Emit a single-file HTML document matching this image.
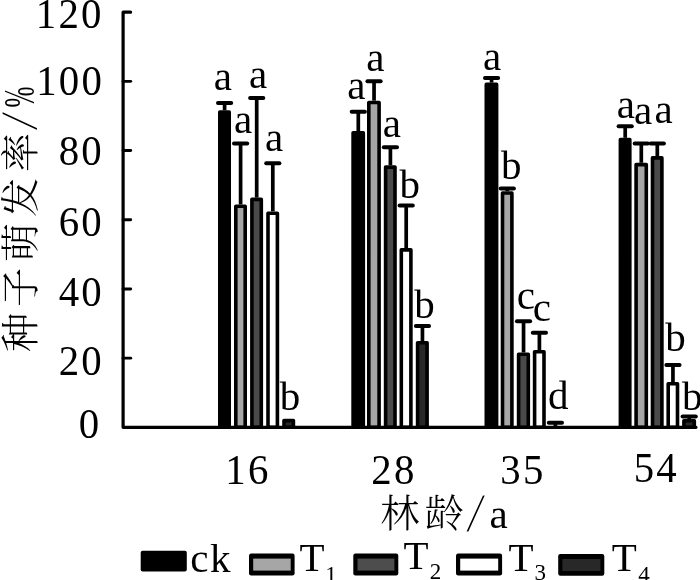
<!DOCTYPE html>
<html lang="zh"><head><meta charset="utf-8"><title>种子萌发率</title>
<style>
html,body{margin:0;padding:0;background:#fff;}
body{width:700px;height:580px;overflow:hidden;}
svg{display:block;}
text{font-family:"Liberation Serif", "Noto Serif CJK SC", serif;fill:#000;}
.cjk{font-family:"Liberation Serif", "Noto Serif CJK SC", serif;}
</style></head><body>
<svg width="700" height="580" viewBox="0 0 700 580">
<rect width="700" height="580" fill="#fff"/>

<defs><clipPath id="plot"><rect x="0" y="0" width="700" height="428.85"/></clipPath></defs>
<g stroke="#000" stroke-linejoin="round" clip-path="url(#plot)">
<line x1="224.60" y1="103.00" x2="224.60" y2="110.30" stroke-width="3.7"/>
<line x1="218.00" y1="103.00" x2="231.20" y2="103.00" stroke-width="4.0" stroke-linecap="round"/>
<rect x="219.80" y="112.10" width="9.40" height="315.25" fill="#000" stroke-width="3.6"/>
<line x1="240.60" y1="143.50" x2="240.60" y2="204.50" stroke-width="3.7"/>
<line x1="234.00" y1="143.50" x2="247.20" y2="143.50" stroke-width="4.0" stroke-linecap="round"/>
<rect x="235.80" y="206.30" width="9.40" height="221.05" fill="#a6a6a6" stroke-width="3.6"/>
<line x1="256.70" y1="98.00" x2="256.70" y2="197.60" stroke-width="3.7"/>
<line x1="250.10" y1="98.00" x2="263.30" y2="98.00" stroke-width="4.0" stroke-linecap="round"/>
<rect x="251.90" y="199.40" width="9.40" height="227.95" fill="#4a4a4a" stroke-width="3.6"/>
<line x1="272.80" y1="163.20" x2="272.80" y2="211.40" stroke-width="3.7"/>
<line x1="266.20" y1="163.20" x2="279.40" y2="163.20" stroke-width="4.0" stroke-linecap="round"/>
<rect x="268.00" y="213.20" width="9.40" height="214.15" fill="#fff" stroke-width="3.6"/>
<rect x="284.00" y="420.60" width="9.40" height="6.75" fill="#282828" stroke-width="3.6"/>
<line x1="358.30" y1="111.70" x2="358.30" y2="131.00" stroke-width="3.7"/>
<line x1="351.70" y1="111.70" x2="364.90" y2="111.70" stroke-width="4.0" stroke-linecap="round"/>
<rect x="353.10" y="132.80" width="10.20" height="294.55" fill="#000" stroke-width="3.6"/>
<line x1="374.05" y1="81.20" x2="374.05" y2="100.70" stroke-width="3.7"/>
<line x1="367.45" y1="81.20" x2="380.65" y2="81.20" stroke-width="4.0" stroke-linecap="round"/>
<rect x="368.80" y="102.50" width="10.30" height="324.85" fill="#a6a6a6" stroke-width="3.6"/>
<line x1="390.40" y1="147.20" x2="390.40" y2="165.30" stroke-width="3.7"/>
<line x1="383.80" y1="147.20" x2="397.00" y2="147.20" stroke-width="4.0" stroke-linecap="round"/>
<rect x="385.60" y="167.10" width="9.40" height="260.25" fill="#4a4a4a" stroke-width="3.6"/>
<line x1="406.20" y1="205.50" x2="406.20" y2="248.10" stroke-width="3.7"/>
<line x1="399.60" y1="205.50" x2="412.80" y2="205.50" stroke-width="4.0" stroke-linecap="round"/>
<rect x="401.30" y="249.90" width="9.60" height="177.45" fill="#fff" stroke-width="3.6"/>
<line x1="422.45" y1="326.00" x2="422.45" y2="340.90" stroke-width="3.7"/>
<line x1="415.85" y1="326.00" x2="429.05" y2="326.00" stroke-width="4.0" stroke-linecap="round"/>
<rect x="417.60" y="342.70" width="9.50" height="84.65" fill="#282828" stroke-width="3.6"/>
<line x1="491.55" y1="78.00" x2="491.55" y2="82.60" stroke-width="3.7"/>
<line x1="484.95" y1="78.00" x2="498.15" y2="78.00" stroke-width="4.0" stroke-linecap="round"/>
<rect x="486.30" y="84.40" width="10.30" height="342.95" fill="#000" stroke-width="3.6"/>
<line x1="507.30" y1="188.50" x2="507.30" y2="191.20" stroke-width="3.7"/>
<line x1="500.70" y1="188.50" x2="513.90" y2="188.50" stroke-width="4.0" stroke-linecap="round"/>
<rect x="502.50" y="193.00" width="9.40" height="234.35" fill="#a6a6a6" stroke-width="3.6"/>
<line x1="523.55" y1="321.20" x2="523.55" y2="352.40" stroke-width="3.7"/>
<line x1="516.95" y1="321.20" x2="530.15" y2="321.20" stroke-width="4.0" stroke-linecap="round"/>
<rect x="518.60" y="354.20" width="9.70" height="73.15" fill="#4a4a4a" stroke-width="3.6"/>
<line x1="539.40" y1="332.80" x2="539.40" y2="350.00" stroke-width="3.7"/>
<line x1="532.80" y1="332.80" x2="546.00" y2="332.80" stroke-width="4.0" stroke-linecap="round"/>
<rect x="534.60" y="351.80" width="9.40" height="75.55" fill="#fff" stroke-width="3.6"/>
<line x1="555.40" y1="422.80" x2="555.40" y2="427.35" stroke-width="3.7"/>
<line x1="548.80" y1="422.80" x2="562.00" y2="422.80" stroke-width="4.0" stroke-linecap="round"/>
<line x1="625.20" y1="126.20" x2="625.20" y2="137.80" stroke-width="3.7"/>
<line x1="618.60" y1="126.20" x2="631.80" y2="126.20" stroke-width="4.0" stroke-linecap="round"/>
<rect x="620.40" y="139.60" width="9.40" height="287.75" fill="#000" stroke-width="3.6"/>
<line x1="641.30" y1="143.50" x2="641.30" y2="162.80" stroke-width="3.7"/>
<line x1="634.70" y1="143.50" x2="647.90" y2="143.50" stroke-width="4.0" stroke-linecap="round"/>
<rect x="636.10" y="164.60" width="10.20" height="262.75" fill="#a6a6a6" stroke-width="3.6"/>
<line x1="657.30" y1="143.50" x2="657.30" y2="156.10" stroke-width="3.7"/>
<line x1="650.70" y1="143.50" x2="663.90" y2="143.50" stroke-width="4.0" stroke-linecap="round"/>
<rect x="652.50" y="157.90" width="9.40" height="269.45" fill="#4a4a4a" stroke-width="3.6"/>
<line x1="672.95" y1="365.00" x2="672.95" y2="382.00" stroke-width="3.7"/>
<line x1="666.35" y1="365.00" x2="679.55" y2="365.00" stroke-width="4.0" stroke-linecap="round"/>
<rect x="668.20" y="383.80" width="9.30" height="43.55" fill="#fff" stroke-width="3.6"/>
<line x1="689.20" y1="416.60" x2="689.20" y2="418.90" stroke-width="3.7"/>
<line x1="682.60" y1="416.60" x2="695.80" y2="416.60" stroke-width="4.0" stroke-linecap="round"/>
<rect x="683.90" y="420.70" width="10.40" height="6.65" fill="#282828" stroke-width="3.6"/>
</g>
<g stroke="#000" stroke-width="3.2" fill="none" stroke-linecap="round" stroke-linejoin="round">
<polyline points="130.60,12.15 123.10,12.15 123.10,427.35 696.00,427.35"/>
<line x1="123.10" y1="358.15" x2="130.70" y2="358.15" stroke-width="2.9"/>
<line x1="123.10" y1="288.95" x2="130.70" y2="288.95" stroke-width="2.9"/>
<line x1="123.10" y1="219.75" x2="130.70" y2="219.75" stroke-width="2.9"/>
<line x1="123.10" y1="150.55" x2="130.70" y2="150.55" stroke-width="2.9"/>
<line x1="123.10" y1="81.35" x2="130.70" y2="81.35" stroke-width="2.9"/>
</g>
<text transform="translate(103.7,28.2) scale(0.950,1)" font-size="43.0" text-anchor="end" letter-spacing="2.32">120</text>
<text transform="translate(104.0,94.6) scale(0.950,1)" font-size="43.0" text-anchor="end" letter-spacing="2.32">100</text>
<text transform="translate(104.0,165.0) scale(0.950,1)" font-size="43.0" text-anchor="end" letter-spacing="2.32">80</text>
<text transform="translate(104.0,236.0) scale(0.950,1)" font-size="43.0" text-anchor="end" letter-spacing="2.32">60</text>
<text transform="translate(104.0,305.8) scale(0.950,1)" font-size="43.0" text-anchor="end" letter-spacing="2.32">40</text>
<text transform="translate(104.0,375.2) scale(0.950,1)" font-size="43.0" text-anchor="end" letter-spacing="2.32">20</text>
<text transform="translate(101.5,437.9) scale(0.950,1)" font-size="43.0" text-anchor="end" letter-spacing="2.32">0</text>
<text transform="translate(247.9,483.6) scale(0.950,1)" font-size="43.0" text-anchor="middle" letter-spacing="2.32">16</text>
<text transform="translate(393.9,483.8) scale(0.950,1)" font-size="43.0" text-anchor="middle" letter-spacing="2.32">28</text>
<text transform="translate(522.9,483.6) scale(0.950,1)" font-size="43.0" text-anchor="middle" letter-spacing="2.32">35</text>
<text transform="translate(656.3,481.8) scale(0.950,1)" font-size="43.0" text-anchor="middle" letter-spacing="2.32">54</text>
<g font-size="41" text-anchor="middle">
<text x="222.8" y="90.0">a</text>
<text x="258.0" y="88.2">a</text>
<text x="243.2" y="133.4">a</text>
<text x="274.2" y="151.3">a</text>
<text x="290.0" y="410.2">b</text>
<text x="375.4" y="70.5">a</text>
<text x="356.4" y="99.0">a</text>
<text x="391.8" y="136.6">a</text>
<text x="409.7" y="198.3">b</text>
<text x="424.6" y="317.8">b</text>
<text x="492.0" y="69.8">a</text>
<text x="511.3" y="178.7">b</text>
<text x="525.9" y="309.1">c</text>
<text x="541.8" y="321.4">c</text>
<text x="558.2" y="408.6">d</text>
<text x="625.9" y="118.0">a</text>
<text x="643.2" y="124.1">a</text>
<text x="663.5" y="123.4">a</text>
<text x="675.6" y="350.5">b</text>
<text x="692.3" y="409.9">b</text>
</g>
<text class="cjk" x="380.2" y="527" font-size="39.2" letter-spacing="5.3" font-weight="300">林龄</text>
<text transform="translate(465.6,530.5) scale(1.34,1)" font-size="54.5" stroke="#fff" stroke-width="1.15">/</text>
<text x="489.6" y="527.8" font-size="41">a</text>
<text class="cjk" transform="translate(33.7,351.9) rotate(-90)" font-size="39.2" letter-spacing="5.8" font-weight="300">种子萌发率</text>
<text transform="translate(36.6,131.0) rotate(-90) scale(1.38,1)" font-size="52" stroke="#fff" stroke-width="1.15">/</text>
<text transform="translate(33.5,107.5) rotate(-90) scale(0.58,1)" font-size="43.3">%</text>
<rect x="140.70" y="550.80" width="46.10" height="20.80" rx="2" fill="#000"/>
<text x="190.2" y="571.5" font-size="41" letter-spacing="1.5">ck</text>
<rect x="249.00" y="553.60" width="45.60" height="21.80" rx="2.2" fill="#000"/>
<rect x="253.20" y="558.60" width="37.50" height="12.00" fill="#a6a6a6"/>
<text x="299.4" y="571.4" font-size="41">T<tspan font-size="23" dx="0.7" dy="10.5">1</tspan></text>
<rect x="353.30" y="553.60" width="45.00" height="21.80" rx="2.2" fill="#000"/>
<rect x="357.50" y="558.60" width="36.90" height="12.00" fill="#4d4d4d"/>
<text x="403.6" y="569.4" font-size="41">T<tspan font-size="23" dx="1.0" dy="9.6">2</tspan></text>
<rect x="456.00" y="553.60" width="46.10" height="21.80" rx="2.2" fill="#000"/>
<rect x="460.20" y="558.60" width="38.00" height="12.00" fill="#fff"/>
<text x="508.4" y="570.8" font-size="41">T<tspan font-size="23" dx="1.1" dy="9.6">3</tspan></text>
<rect x="558.20" y="554.00" width="46.10" height="21.80" rx="2.2" fill="#000"/>
<rect x="562.40" y="559.00" width="38.00" height="12.00" fill="#282828"/>
<text x="611.8" y="571.4" font-size="41">T<tspan font-size="23" dx="1.4" dy="10.5">4</tspan></text>
</svg>
</body></html>
